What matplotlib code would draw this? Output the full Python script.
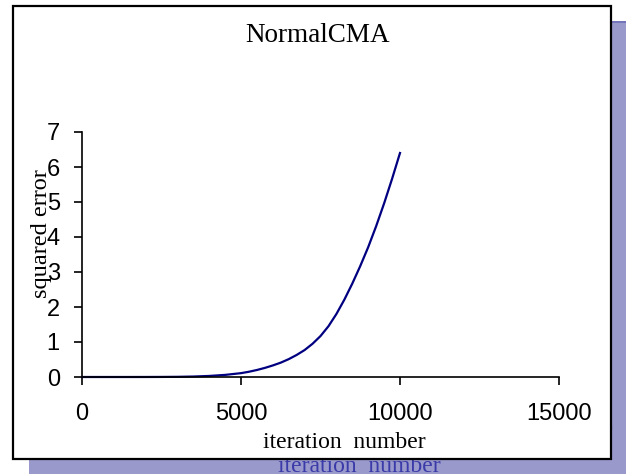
import matplotlib
matplotlib.use("Agg")
import matplotlib.pyplot as plt
from matplotlib.patches import Rectangle

# Data
iterations = [0, 500, 1000, 1500, 2000, 2500, 3000, 3500, 4000, 4500,
              5000, 5250, 5500, 5750, 6000, 6250, 6500, 6750, 7000, 7250,
              7500, 7750, 8000, 8250, 8500, 8750, 9000, 9250, 9500, 9750, 10000]
squared_error = [0, 0, 0, 0, 0.0005, 0.002, 0.005, 0.013, 0.03, 0.06,
                 0.11, 0.15, 0.20, 0.26, 0.33, 0.41, 0.51, 0.63, 0.77, 0.95,
                 1.17, 1.45, 1.80, 2.21, 2.67, 3.17, 3.71, 4.31, 4.96, 5.66, 6.4]
x_ticks = [0, 5000, 10000, 15000]
y_ticks = [0, 1, 2, 3, 4, 5, 6, 7]
title = "NormalCMA"
xlabel = "iteration  number"
ylabel = "squared error"

W, H = 626, 474
fig = plt.figure(figsize=(W / 100, H / 100), dpi=100)
fig.patch.set_facecolor("white")

def fx(px):
    return px / W

def fy(py):
    return 1 - py / H

# purple backdrop
fig.patches.append(Rectangle((fx(29), 0), fx(626) - fx(29), fy(22), transform=fig.transFigure,
                             facecolor="#9999CC", edgecolor="none", zorder=0.1))
fig.patches.append(Rectangle((fx(29), fy(23)), fx(626) - fx(29), fy(21) - fy(23), transform=fig.transFigure,
                             facecolor="#7474B8", edgecolor="none", zorder=0.15))
# hidden texts on backdrop
fig.text(fx(359), fy(466), "iteration  number", family="Liberation Serif", fontsize=17,
         color="#3A3AA8", ha="center", va="center", zorder=0.3)
fig.text(fx(606), fy(430), "0", family="Liberation Sans", fontsize=17,
         color="#6A6AB8", ha="center", va="center", zorder=0.3)
# white chart box
fig.patches.append(Rectangle((fx(13), fy(459)), fx(611) - fx(13), fy(6) - fy(459), transform=fig.transFigure,
                             facecolor="white", edgecolor="black", linewidth=1.6, zorder=1))

ax = fig.add_axes([fx(82), fy(377), fx(559) - fx(82), fy(132) - fy(377)])
ax.set_zorder(5)
ax.patch.set_visible(False)
ax.plot(iterations, squared_error, color="#000080", linewidth=1.6, clip_on=False)
ax.set_xlim(0, 15000)
ax.set_ylim(0, 7)
ax.set_xticks(x_ticks)
ax.set_yticks(y_ticks)
ax.set_xticklabels([str(t) for t in x_ticks])
ax.set_yticklabels([str(t) for t in y_ticks])
for s in ["top", "right"]:
    ax.spines[s].set_visible(False)
for s in ["left", "bottom"]:
    ax.spines[s].set_linewidth(1.2)
ax.tick_params(axis="both", direction="out", length=6, width=1.2, labelsize=17)
ax.tick_params(axis="x", pad=13)
ax.tick_params(axis="y", pad=10)
for lab in ax.get_xticklabels() + ax.get_yticklabels():
    lab.set_family("Liberation Sans")

fig.text(fx(318), fy(36), title, family="Liberation Serif", fontsize=19.5,
         ha="center", va="center", zorder=6)
fig.text(fx(41), fy(234), ylabel, family="Liberation Serif", fontsize=17.5,
         rotation=90, ha="center", va="center", zorder=6)
fig.text(fx(344), fy(442), xlabel, family="Liberation Serif", fontsize=17,
         ha="center", va="center", zorder=6)

fig.savefig("out.png", dpi=100)
